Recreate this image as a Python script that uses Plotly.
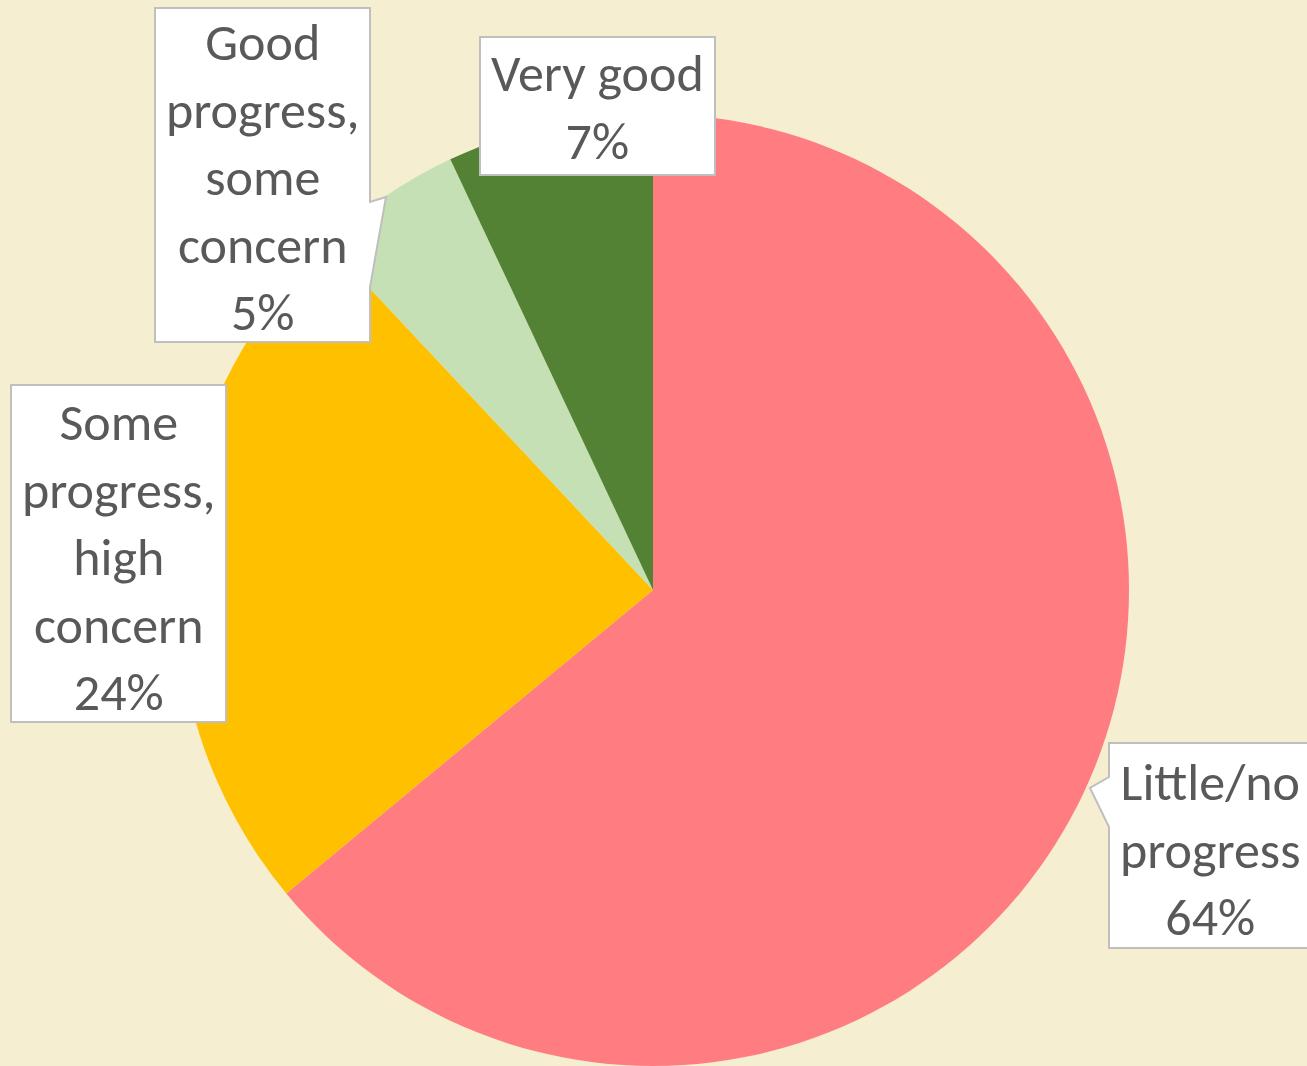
import plotly.graph_objects as go

W, H = 1307, 1066

categories = ["Little/no progress", "Some progress, high concern",
              "Good progress, some concern", "Very good"]
label_lines = ["Little/no<br>progress", "Some<br>progress,<br>high<br>concern",
               "Good<br>progress,<br>some<br>concern", "Very good"]
values = [64, 24, 5, 7]
colors = ["#FF7C80", "#FFC000", "#C5E0B4", "#548235"]

# callout layout (pixel space): text centre and box outline
text_centres = [(1210, 849), (118, 557), (262, 177), (597, 107)]
box_paths = [
    [(1109, 743), (1330, 743), (1330, 948), (1109, 948), (1109, 827), (1090, 788), (1109, 777)],
    [(11, 385), (226, 385), (226, 722), (11, 722)],
    [(155, 8), (370, 8), (370, 202), (386, 197), (370, 287), (370, 342), (155, 342)],
    [(480, 37), (715, 37), (715, 175), (480, 175)],
]

def px(x, y):
    return x / W, 1 - y / H

cx, cy, r = 653, 590, 476
x0, y0 = px(cx - r, cy + r)
x1, y1 = px(cx + r, cy - r)

fig = go.Figure(go.Pie(
    labels=categories, values=values, sort=False, direction="clockwise",
    rotation=0, marker=dict(colors=colors, line=dict(width=0)),
    textinfo="none", hoverinfo="label+percent", showlegend=False,
    domain=dict(x=[x0, x1], y=[max(0, y0), y1]),
))

shapes = []
for pts in box_paths:
    d = ""
    for i, (x, y) in enumerate(pts):
        X, Y = px(x, y)
        d += ("M" if i == 0 else "L") + f"{X:.5f},{Y:.5f} "
    d += "Z"
    shapes.append(dict(type="path", xref="paper", yref="paper", path=d,
                       fillcolor="white", line=dict(color="#BFBFBF", width=2)))

annotations = []
for (tx, ty), lab, v in zip(text_centres, label_lines, values):
    X, Y = px(tx, ty)
    annotations.append(dict(x=X, y=Y, xref="paper", yref="paper",
                            xanchor="center", yanchor="middle", showarrow=False,
                            text=f"{lab}<br>{v}%", align="center",
                            font=dict(family="Carlito, Lato, sans-serif", size=52, color="#595959")))

fig.update_layout(width=W, height=H, margin=dict(l=0, r=0, t=0, b=0),
                  paper_bgcolor="#F5EED0", plot_bgcolor="#F5EED0",
                  shapes=shapes, annotations=annotations)
fig.write_html("out.html")
